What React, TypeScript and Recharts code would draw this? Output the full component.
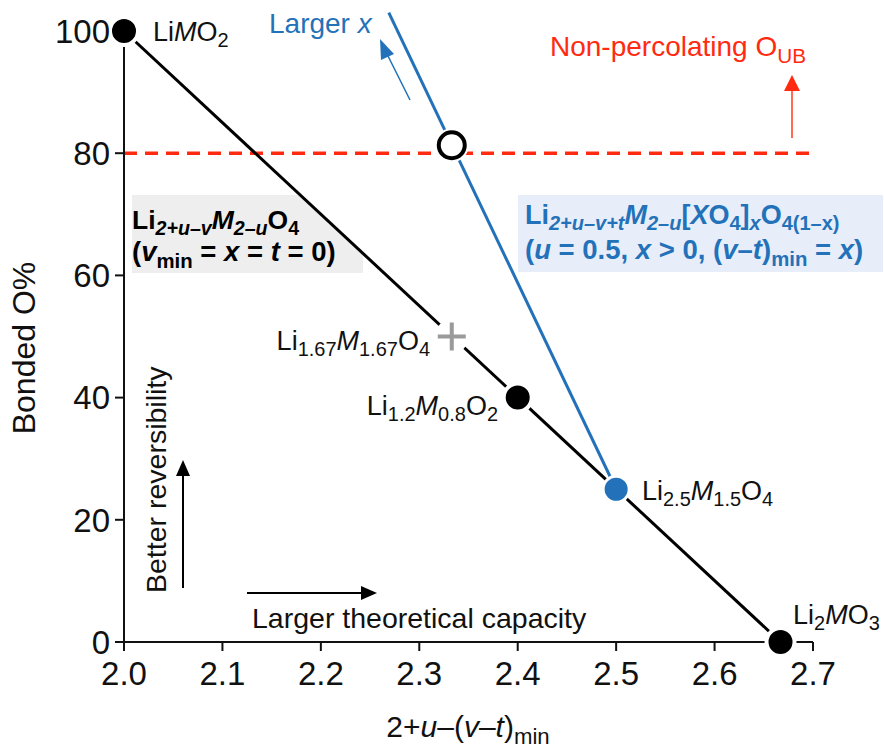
import React from "react"
import {
  ReferenceLine,
  Scatter,
  ScatterChart,
  XAxis,
  YAxis,
} from "recharts"

// x = 2+u-(v-t)min, y = bonded O%
const blackLineX = [2.0, 2.667]
const blackLineY = [100, 0]
const blackDotX = [2.0, 2.4, 2.667]
const blackDotY = [100, 40, 0]
const plusX = [2.333]
const plusY = [50]
const openX = [2.333]
const openY = [81.3]
const blueDotX = [2.5]
const blueDotY = [25]
const blueLineX = [2.5, 2.269]
const blueLineY = [25, 103]
const thresholdY = 80
const xTicks = [2.0, 2.1, 2.2, 2.3, 2.4, 2.5, 2.6, 2.7]
const yTicks = [0, 20, 40, 60, 80, 100]

const zip = (xs: number[], ys: number[]) => xs.map((x, i) => ({ x, y: ys[i] }))

const blackLine = zip(blackLineX, blackLineY)
const blackDots = zip(blackDotX, blackDotY)
const plusPts = zip(plusX, plusY)
const openPts = zip(openX, openY)
const bluePts = zip(blueDotX, blueDotY)
const blueSeg = zip(blueLineX, blueLineY)

const W = 884
const H = 753
const FONT = "'Liberation Sans', Arial, Helvetica, sans-serif"
const BLUE = "#2372b9"
const RED = "#ff2a10"

type Seg = { t: string; sub?: boolean; i?: boolean }

function Rich({
  x,
  y,
  segs,
  size = 27,
  anchor = "start",
  fill = "#111",
  bold = false,
}: {
  x: number
  y: number
  segs: Seg[]
  size?: number
  anchor?: "start" | "end" | "middle"
  fill?: string
  bold?: boolean
}) {
  const shift = size * 0.24
  let down = false
  return (
    <text
      x={x}
      y={y}
      fontSize={size}
      fontFamily={FONT}
      fill={fill}
      textAnchor={anchor}
      fontWeight={bold ? "bold" : "normal"}
    >
      {segs.map((s, k) => {
        let dy = 0
        if (s.sub && !down) {
          dy = shift
          down = true
        } else if (!s.sub && down) {
          dy = -shift
          down = false
        }
        return (
          <tspan
            key={k}
            dy={dy}
            fontSize={s.sub ? size * 0.74 : size}
            fontStyle={s.i ? "italic" : "normal"}
          >
            {s.t}
          </tspan>
        )
      })}
    </text>
  )
}

const DotShape = (props: any) => (
  <circle cx={props.cx} cy={props.cy} r={14} fill="#000" stroke="#fff" strokeWidth={4} />
)
const BlueShape = (props: any) => (
  <circle cx={props.cx} cy={props.cy} r={13} fill={BLUE} stroke="#fff" strokeWidth={3} />
)
const OpenShape = (props: any) => (
  <g>
    <circle cx={props.cx} cy={props.cy} r={17} fill="#fff" />
    <circle cx={props.cx} cy={props.cy} r={13} fill="#fff" stroke="#000" strokeWidth={4} />
  </g>
)
const PlusShape = (props: any) => (
  <g>
    <circle cx={props.cx} cy={props.cy} r={17} fill="#fff" />
    <path
      d={`M${props.cx - 14},${props.cy}H${props.cx + 14}M${props.cx},${props.cy - 14}V${props.cy + 14}`}
      stroke="#9a9a9a"
      strokeWidth={4}
    />
  </g>
)
const NoShape = () => <g />

export default function App() {
  return (
    <div style={{ position: "absolute", left: 0, top: 0, width: W, height: H, background: "#fff" }}>
      <svg width={W} height={H} style={{ position: "absolute", left: 0, top: 0 }}>
        <polygon points="132,195 300,195 363,253 363,273 132,273" fill="#eeeeee" />
        <rect x={518} y={195} width={365} height={77} fill="#e8eef9" />
      </svg>
      <div style={{ position: "absolute", left: 0, top: 0 }}>
        <ScatterChart width={W} height={H} margin={{ top: 31, right: 71, bottom: 51, left: 64 }}>
          <XAxis
            type="number"
            dataKey="x"
            domain={[2.0, 2.7]}
            ticks={xTicks}
            tickFormatter={(v: number) => v.toFixed(1)}
            height={60}
            tickSize={9}
            tickMargin={11}
            stroke="#111"
            strokeWidth={2}
            tick={{ fill: "#111", fontSize: 33, fontFamily: FONT }}
          />
          <YAxis
            type="number"
            dataKey="y"
            domain={[0, 100]}
            ticks={yTicks}
            width={60}
            tickSize={9}
            tickMargin={5}
            stroke="#111"
            strokeWidth={2}
            tick={{ fill: "#111", fontSize: 33, fontFamily: FONT }}
          />
          <ReferenceLine
            y={thresholdY}
            stroke={RED}
            strokeWidth={3.5}
            strokeDasharray="13 8"
          />
          <ReferenceLine
            segment={blueSeg}
            stroke={BLUE}
            strokeWidth={3}
            ifOverflow="visible"
          />
          <Scatter
            data={blackLine}
            line={{ stroke: "#000", strokeWidth: 3 }}
            shape={NoShape}
            isAnimationActive={false}
          />
          <Scatter data={plusPts} shape={PlusShape} isAnimationActive={false} />
          <Scatter data={openPts} shape={OpenShape} isAnimationActive={false} />
          <Scatter data={bluePts} shape={BlueShape} isAnimationActive={false} />
          <Scatter data={blackDots} shape={DotShape} isAnimationActive={false} />
        </ScatterChart>
      </div>
      <svg
        width={W}
        height={H}
        style={{ position: "absolute", left: 0, top: 0, pointerEvents: "none" }}
      >
        {/* axis titles */}
        <text
          transform="translate(35,348) rotate(-90)"
          textAnchor="middle"
          fontSize={32}
          fontFamily={FONT}
          fill="#111"
        >
          Bonded O%
        </text>
        <Rich
          x={468}
          y={737}
          anchor="middle"
          size={30}
          segs={[{ t: "2+" }, { t: "u", i: true }, { t: "–(" }, { t: "v", i: true }, { t: "–" }, { t: "t", i: true }, { t: ")" }, { t: "min", sub: true }]}
        />

        {/* composition labels */}
        <Rich x={153} y={41} segs={[{ t: "Li" }, { t: "M", i: true }, { t: "O" }, { t: "2", sub: true }]} />
        <Rich
          x={430}
          y={350}
          anchor="end"
          segs={[{ t: "Li" }, { t: "1.67", sub: true }, { t: "M", i: true }, { t: "1.67", sub: true }, { t: "O" }, { t: "4", sub: true }]}
        />
        <Rich
          x={498}
          y={415}
          anchor="end"
          segs={[{ t: "Li" }, { t: "1.2", sub: true }, { t: "M", i: true }, { t: "0.8", sub: true }, { t: "O" }, { t: "2", sub: true }]}
        />
        <Rich
          x={642}
          y={500}
          segs={[{ t: "Li" }, { t: "2.5", sub: true }, { t: "M", i: true }, { t: "1.5", sub: true }, { t: "O" }, { t: "4", sub: true }]}
        />
        <Rich x={793} y={624} segs={[{ t: "Li" }, { t: "2", sub: true }, { t: "M", i: true }, { t: "O" }, { t: "3", sub: true }]} />

        {/* formula boxes */}
        <Rich
          x={132}
          y={229}
          bold
          size={26.5}
          fill="#000"
          segs={[{ t: "Li" }, { t: "2+u–v", sub: true, i: true }, { t: "M", i: true }, { t: "2–u", sub: true, i: true }, { t: "O" }, { t: "4", sub: true }]}
        />
        <Rich
          x={132}
          y={261}
          bold
          size={27.5}
          fill="#000"
          segs={[{ t: "(" }, { t: "v", i: true }, { t: "min", sub: true }, { t: " = " }, { t: "x", i: true }, { t: " = " }, { t: "t", i: true }, { t: " = 0)" }]}
        />
        <Rich
          x={525}
          y={224}
          bold
          size={27}
          fill={BLUE}
          segs={[{ t: "Li" }, { t: "2+u–v+t", sub: true, i: true }, { t: "M", i: true }, { t: "2–u", sub: true, i: true }, { t: "[" }, { t: "X", i: true }, { t: "O" }, { t: "4", sub: true }, { t: "]" }, { t: "x", sub: true, i: true }, { t: "O" }, { t: "4(1–x)", sub: true }]}
        />
        <Rich
          x={525}
          y={259}
          bold
          size={27.5}
          fill={BLUE}
          segs={[{ t: "(" }, { t: "u", i: true }, { t: " = 0.5, " }, { t: "x", i: true }, { t: " > 0, (" }, { t: "v", i: true }, { t: "–" }, { t: "t", i: true }, { t: ")" }, { t: "min", sub: true }, { t: " = " }, { t: "x", i: true }, { t: ")" }]}
        />

        {/* red threshold note */}
        <Rich x={550} y={56} size={28} fill={RED} segs={[{ t: "Non-percolating O" }, { t: "UB", sub: true }]} />
        <line x1={792} y1={138} x2={792} y2={90} stroke="#ff6a50" strokeWidth={2} />
        <polygon points="792,75 784,91 800,91" fill={RED} />

        {/* blue note */}
        <Rich x={269} y={33} size={28} fill={BLUE} segs={[{ t: "Larger " }, { t: "x", i: true }]} />
        <line x1={410} y1={100} x2={388} y2={56} stroke={BLUE} strokeWidth={1.5} />
        <polygon points="380,39 381,60 394,54" fill={BLUE} />

        {/* direction arrows */}
        <line x1={183} y1={588} x2={183} y2={475} stroke="#000" strokeWidth={2} />
        <polygon points="183,460 176,476 190,476" fill="#000" />
        <line x1={247} y1={593} x2={362} y2={593} stroke="#000" strokeWidth={2} />
        <polygon points="377,593 361,586 361,600" fill="#000" />
        <text
          transform="translate(166,593) rotate(-90)"
          fontSize={28.5}
          fontFamily={FONT}
          fill="#111"
        >
          Better reversibility
        </text>
        <text x={252} y={628} fontSize={28.5} fontFamily={FONT} fill="#111">
          Larger theoretical capacity
        </text>
      </svg>
    </div>
  )
}
